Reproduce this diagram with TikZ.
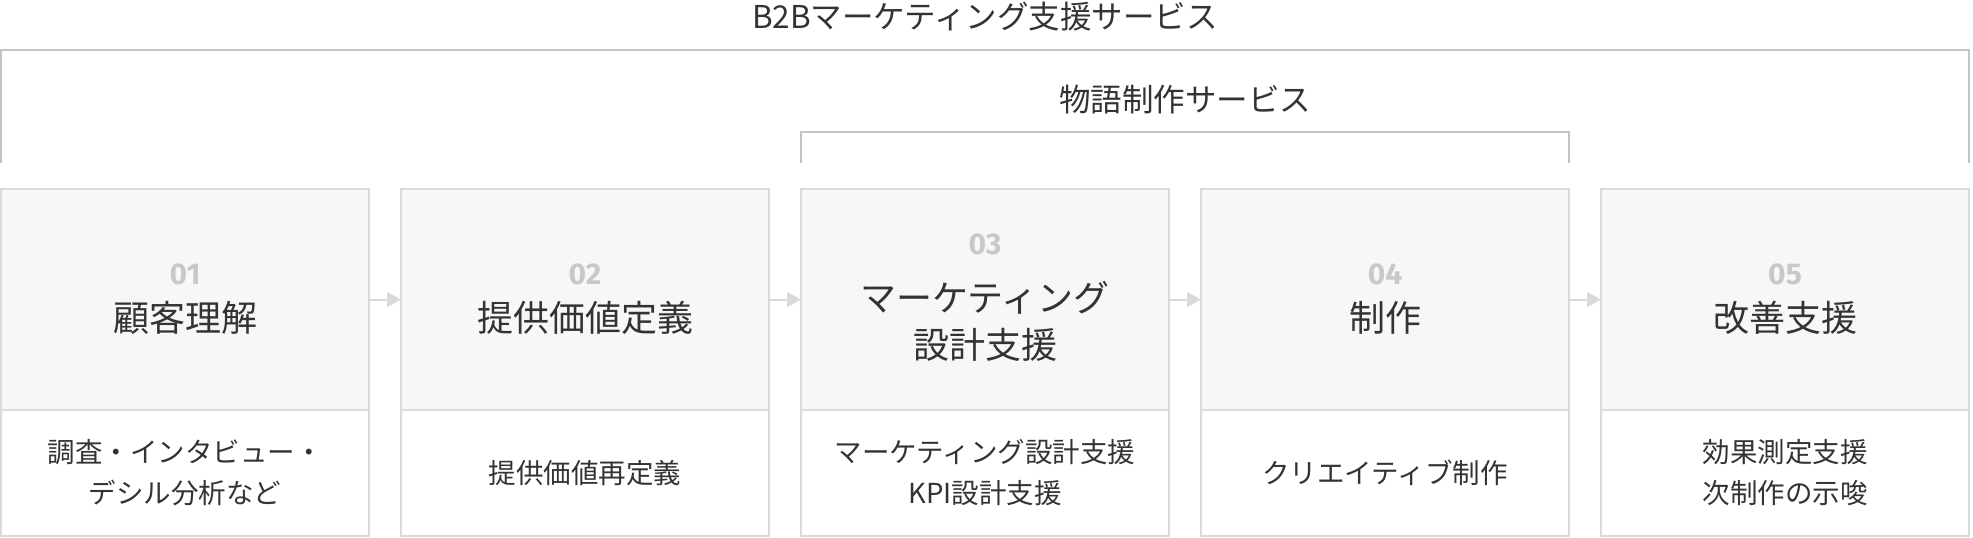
\documentclass[tikz,border=0pt]{standalone}
\usepackage{fontspec}
\setmainfont{Noto Sans CJK JP}
\newfontfamily\numfont{Fira Sans}
\usetikzlibrary{arrows.meta,positioning}
\definecolor{ink}{HTML}{333333}
\definecolor{numgray}{HTML}{C8C8C8}
\definecolor{boxline}{HTML}{DADADA}
\definecolor{braceline}{HTML}{C4C4C4}
\definecolor{phasefill}{HTML}{F7F7F7}

\begin{document}
\begin{tikzpicture}[x=1pt,y=1pt,>={Triangle[length=14pt,width=15pt]},node distance=32pt,
  phase/.style={draw=boxline,fill=phasefill,line width=2pt,outer sep=0pt,inner sep=0pt,minimum width=368pt,minimum height=221pt},
  detail/.style={draw=boxline,fill=white,line width=2pt,outer sep=0pt,inner sep=0pt,minimum width=368pt,minimum height=126pt,align=center,text=ink,font=\fontsize{27.5}{41}\selectfont},
  num/.style={text=numgray,font=\numfont\bfseries\fontsize{30}{30}\selectfont,inner sep=0pt},
  head/.style={text=ink,align=center,inner sep=0pt,font=\fontsize{36}{47}\selectfont},
  title/.style={text=ink,inner sep=0pt,font=\fontsize{31.5}{38}\selectfont},
  bracket/.style={draw=braceline,line width=2pt},
  flow/.style={color=boxline,line width=2pt,-{Triangle[length=14pt,width=15pt]}}]
  \useasboundingbox (0,0) rectangle (1973,-538);

  \node[phase]  (p1) at (185,-299.5) {};
  \node[phase]  (p2) [right=of p1] {};
  \node[phase]  (p3) [right=of p2] {};
  \node[phase]  (p4) [right=of p3] {};
  \node[phase]  (p5) [right=of p4] {};

  \node[detail] (d1) [below=0pt of p1] {調査・インタビュー・\\デシル分析など};
  \node[detail] (d2) [below=0pt of p2] {提供価値再定義};
  \node[detail] (d3) [below=0pt of p3] {マーケティング設計支援\\KPI設計支援};
  \node[detail] (d4) [below=0pt of p4] {クリエイティブ制作};
  \node[detail] (d5) [below=0pt of p5] {効果測定支援\\次制作の示唆};

  \node[num]  (n1) at ([yshift=25.5pt]p1.center) {01};
  \node[num]  (n2) at ([yshift=25.5pt]p2.center) {02};
  \node[num]  (n3) at ([yshift=55.5pt]p3.center) {03};
  \node[num]  (n4) at ([yshift=25.5pt]p4.center) {04};
  \node[num]  (n5) at ([yshift=25.5pt]p5.center) {05};

  \node[head] (h1) at ([yshift=-18pt]p1.center) {顧客理解};
  \node[head] (h2) at ([yshift=-18pt]p2.center) {提供価値定義};
  \node[head] (h3) at ([yshift=-22pt]p3.center) {マーケティング\\設計支援};
  \node[head] (h4) at ([yshift=-18pt]p4.center) {制作};
  \node[head] (h5) at ([yshift=-18pt]p5.center) {改善支援};

  \path (p1) edge [flow] (p2)
        (p2) edge [flow] (p3)
        (p3) edge [flow] (p4)
        (p4) edge [flow] (p5);

  % service brackets
  \coordinate (all-l)   at (1,-163);
  \coordinate (all-r)   at (1969,-163);
  \coordinate (story-l) at (801,-163);
  \coordinate (story-r) at (1569,-163);
  \draw[bracket] (all-l) -- ++(0,113) -| (all-r);
  \draw[bracket] (story-l) -- ++(0,31) -| (story-r);

  \node[title] (alltitle)   at (985,-17)   {B2Bマーケティング支援サービス};
  \node[title] (storytitle) at (1185,-100) {物語制作サービス};
\end{tikzpicture}
\end{document}
